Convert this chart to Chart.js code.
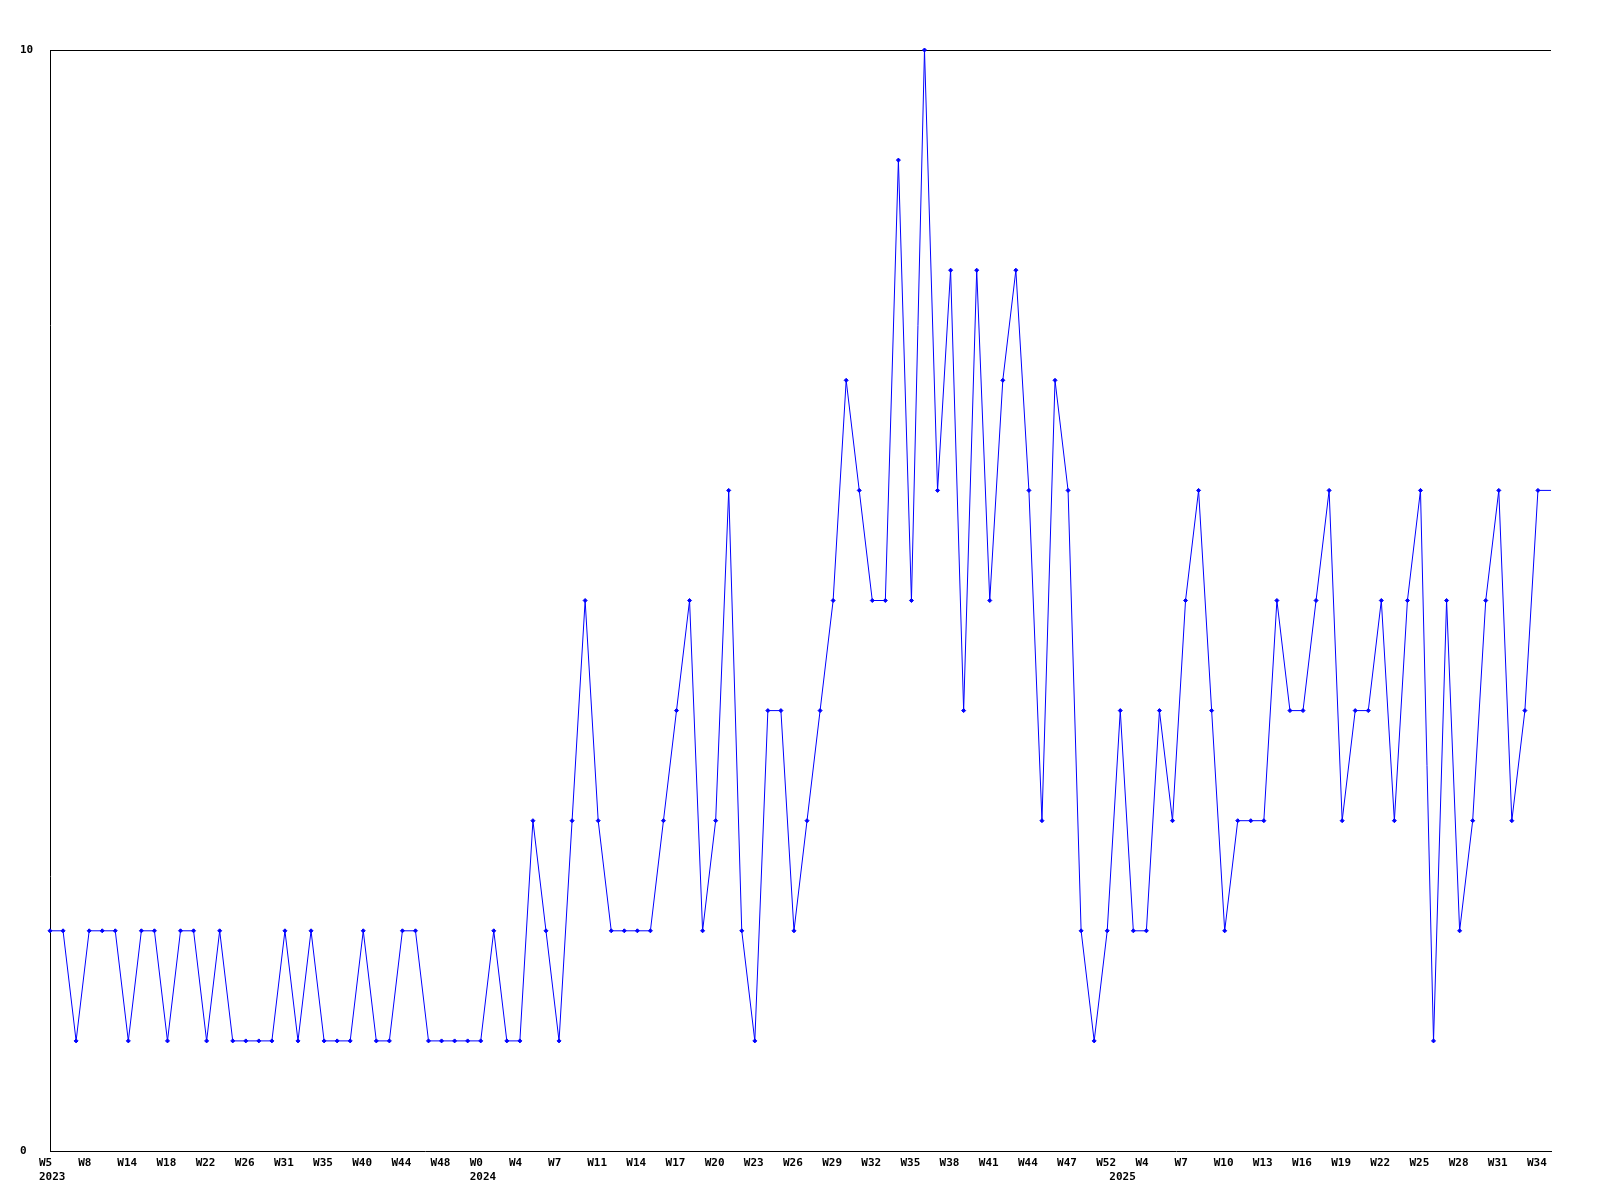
<!DOCTYPE html>
<html>
<head>
<meta charset="utf-8">
<script src="https://cdn.jsdelivr.net/npm/chart.js"></script>
<style>
  html, body { margin: 0; padding: 0; background: #fff; }
  #wrap { width: 1600px; height: 1200px; }
</style>
</head>
<body>
<div id="wrap"><canvas id="myChart"></canvas></div>
<script>
// week of each point (x categories)
const weeks = [
    'W5', 'W6', 'W7', 'W8', 'W10', 'W12', 'W14', 'W15', 'W17', 'W18', 'W20', 'W21', 'W22', 'W23',
    'W25', 'W26', 'W28', 'W30', 'W31', 'W32', 'W34', 'W35', 'W37', 'W38', 'W40', 'W41', 'W43',
    'W44', 'W45', 'W47', 'W48', 'W50', 'W52',
    'W0', 'W1', 'W2', 'W4', 'W5', 'W6', 'W7', 'W8', 'W10', 'W11', 'W12', 'W13', 'W14', 'W15',
    'W16', 'W17', 'W18', 'W19', 'W20', 'W21', 'W22', 'W23', 'W24', 'W25', 'W26', 'W27', 'W28',
    'W29', 'W30', 'W31', 'W32', 'W33', 'W34', 'W35', 'W36', 'W37', 'W38', 'W39', 'W40', 'W41',
    'W42', 'W43', 'W44', 'W45', 'W46', 'W47', 'W49', 'W51', 'W52',
    'W1', 'W2', 'W4', 'W5', 'W6', 'W7', 'W8', 'W9', 'W10', 'W11', 'W12', 'W13', 'W14', 'W15',
    'W16', 'W17', 'W18', 'W19', 'W20', 'W21', 'W22', 'W23', 'W24', 'W25', 'W26', 'W27', 'W28',
    'W29', 'W30', 'W31', 'W32', 'W33', 'W34', 'W35'
];

// first point of each year
const yearStart = [0, 33, 82];
const yearNames = ['2023', '2024', '2025'];

const counts = [
    2, 2, 1, 2, 2, 2, 1, 2, 2, 1, 2, 2, 1, 2, 1, 1, 1, 1, 2, 1,
    2, 1, 1, 1, 2, 1, 1, 2, 2, 1, 1, 1, 1, 1, 2, 1, 1, 3, 2, 1,
    3, 5, 3, 2, 2, 2, 2, 3, 4, 5, 2, 3, 6, 2, 1, 4, 4, 2, 3, 4,
    5, 7, 6, 5, 5, 9, 5, 10, 6, 8, 4, 8, 5, 7, 8, 6, 3, 7, 6, 2,
    1, 2, 4, 2, 2, 4, 3, 5, 6, 4, 2, 3, 3, 3, 5, 4, 4, 5, 6, 3,
    4, 4, 5, 3, 5, 6, 1, 5, 2, 3, 5, 6, 3, 4, 6, 6
];

const tickFont = { family: 'DejaVu Sans Mono', size: 11, weight: 'bold', lineHeight: 1.3 };

new Chart(document.getElementById('myChart'), {
    type: 'line',
    data: {
        labels: weeks,
        datasets: [{
            data: counts,
            borderColor: '#0000ff',
            borderWidth: 1,
            tension: 0,
            pointStyle: 'rectRot',
            pointRadius: ctx => ctx.dataIndex === counts.length - 1 ? 0 : 2,
            pointBorderWidth: 1,
            pointBackgroundColor: '#0000ff',
            pointBorderColor: '#0000ff',
            clip: false
        }]
    },
    options: {
        responsive: true,
        maintainAspectRatio: false,
        animation: false,
        layout: {
            padding: { left: 20, right: 49, top: 50, bottom: 0 }
        },
        scales: {
            x: {
                offset: false,
                grid: { display: false },
                border: { display: true, color: '#000', width: 1 },
                afterFit: scale => { scale.height = 49; },
                ticks: {
                    autoSkip: false,
                    maxRotation: 0,
                    minRotation: 0,
                    align: 'start',
                    labelOffset: -11,
                    padding: -3,
                    color: '#000',
                    font: tickFont,
                    callback: function (value, index) {
                        const w = index % 3 === 0 ? weeks[index] : '';
                        const y = yearStart.indexOf(index);
                        return y >= 0 ? [w, yearNames[y]] : w;
                    }
                }
            },
            y: {
                min: 0,
                max: 10,
                afterFit: scale => { scale.width = 30; },
                grid: {
                    drawTicks: false,
                    color: ctx => ctx.tick && ctx.tick.value === 10 ? '#000' : 'rgba(0,0,0,0)'
                },
                border: { display: true, color: '#000', width: 1 },
                ticks: {
                    stepSize: 10,
                    crossAlign: 'far',
                    color: '#000',
                    font: tickFont
                }
            }
        },
        plugins: {
            legend: { display: false },
            tooltip: { enabled: false }
        }
    }
});
</script>
</body>
</html>
